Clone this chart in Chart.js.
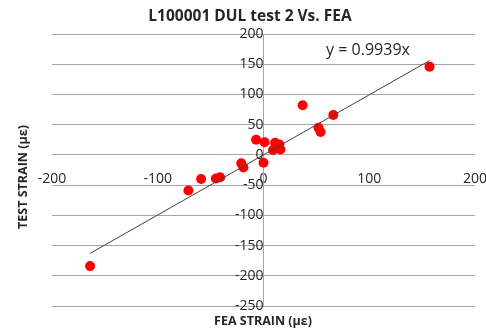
<!DOCTYPE html>
<html>
<head>
<meta charset="utf-8">
<script src="https://cdn.jsdelivr.net/npm/chart.js@4.4.0/dist/chart.umd.min.js"></script>
<style>
  html, body { margin: 0; padding: 0; background: #fff; }
</style>
</head>
<body>
<canvas id="chart" width="486" height="331"></canvas>
<script>
const feaStrain  = [-164, -71, -59, -45, -41, -21, -19, -7,   0,  1,  9, 11, 15, 16, 37, 52, 54, 66, 157];
const testStrain = [-184, -59, -40, -39, -37, -14, -21, 25, -13, 21,  8, 20, 17,  9, 82, 45, 38, 66, 146];
const trendSlope = 0.9939;

const xTicks = [-200, -100, 0, 100, 200];
const yTicks = [-250, -200, -150, -100, -50, 0, 50, 100, 150, 200];

const chartTitle = 'L100001 DUL test 2 Vs. FEA';
const xTitle = 'FEA STRAIN (με)';
const yTitle = 'TEST STRAIN (με)';
const trendLabel = 'y = 0.9939x';

const FONT = '"Open Sans", "Noto Sans CJK KR", sans-serif';
const gridColor = '#a6a6a6';
const textColor = '#262626';

const points = feaStrain.map((x, i) => ({ x, y: testStrain[i] }));
const xMin = Math.min(...feaStrain);
const xMax = Math.max(...feaStrain);
const trendPoints = [xMin, xMax].map(x => ({ x, y: trendSlope * x }));

// titles + trendline equation
const textPlugin = {
  id: 'texts',
  afterDraw(chart) {
    const ctx = chart.ctx;
    ctx.save();
    ctx.fillStyle = textColor;
    ctx.textBaseline = 'middle';

    ctx.font = 'bold 15.5px ' + FONT;
    ctx.textAlign = 'center';
    ctx.fillText(chartTitle, 250, 17);

    ctx.font = 'bold 12.5px ' + FONT;
    ctx.fillText(xTitle, 263, 321);

    ctx.save();
    ctx.translate(23, 177);
    ctx.rotate(-Math.PI / 2);
    ctx.fillText(yTitle, 0, 0);
    ctx.restore();

    ctx.font = '16px ' + FONT;
    ctx.fillText(trendLabel, 368, 50);
    ctx.restore();
  }
};

new Chart(document.getElementById('chart'), {
  type: 'scatter',
  data: {
    datasets: [
      {
        type: 'line',
        label: 'trend',
        data: trendPoints,
        borderColor: '#404040',
        borderWidth: 1,
        pointRadius: 0,
        fill: false,
        order: 0
      },
      {
        label: 'test',
        data: points,
        backgroundColor: '#ff0000',
        borderWidth: 0,
        pointRadius: 5,
        order: 1
      }
    ]
  },
  options: {
    responsive: false,
    animation: false,
    devicePixelRatio: 1,
    layout: { padding: { left: 52, right: 11, top: 34, bottom: 25 } },
    plugins: {
      legend: { display: false },
      title: { display: false },
      tooltip: { enabled: false }
    },
    scales: {
      x: {
        type: 'linear',
        position: { y: 0 },
        min: -200,
        max: 200,
        afterBuildTicks: s => { s.ticks = xTicks.map(v => ({ value: v })); },
        // don't let the end labels shrink the plot area
        afterFit: s => { s.paddingLeft = 0; s.paddingRight = 0; },
        grid: { display: false },
        border: { display: false },
        ticks: { color: textColor, font: { family: FONT, size: 14 }, padding: 8, maxRotation: 0 }
      },
      y: {
        type: 'linear',
        position: { x: 0 },
        min: -250,
        max: 200,
        afterBuildTicks: s => { s.ticks = yTicks.map(v => ({ value: v })); },
        afterFit: s => { s.paddingTop = 0; s.paddingBottom = 0; },
        grid: { color: gridColor, lineWidth: 1, drawTicks: false },
        border: { display: true, color: gridColor, width: 1 },
        ticks: { color: textColor, font: { family: FONT, size: 14 }, padding: 22 }
      }
    }
  },
  plugins: [textPlugin]
});
</script>
</body>
</html>
